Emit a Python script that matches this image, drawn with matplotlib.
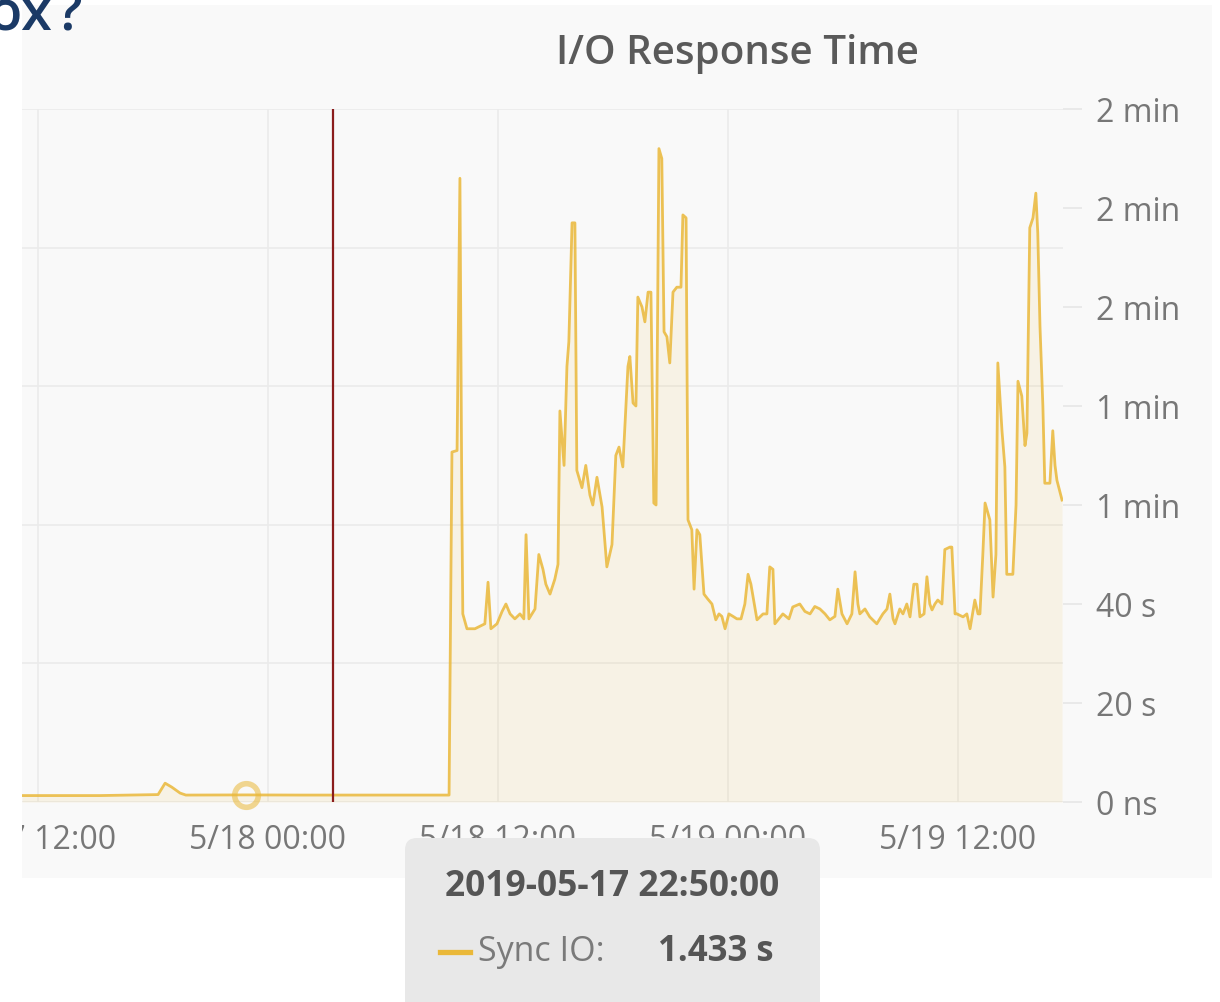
import datetime as dt
import matplotlib
matplotlib.use("Agg")
import matplotlib.pyplot as plt
from matplotlib.patches import FancyBboxPatch, Rectangle
from matplotlib.lines import Line2D
from matplotlib.transforms import IdentityTransform
from matplotlib.ticker import FuncFormatter

plt.rcParams['font.family'] = ['Open Sans', 'DejaVu Sans']

# time axis: minutes after 2019-05-18 00:00, values: Sync IO in seconds
base = dt.datetime(2019, 5, 18)
minutes = [
    -770, -526, -344, -322, -301, -275, -257, -70, 100, 567,
    576, 592, 601, 607, 610, 623, 648, 679, 689, 698,
    717, 733, 745, 758, 773, 789, 801, 808, 817, 836,
    848, 861, 870, 883, 898, 908, 914, 927, 936, 942,
    952, 961, 967, 983, 995, 1008, 1017, 1030, 1046, 1061,
    1077, 1089, 1099, 1111, 1127, 1133, 1143, 1152, 1158, 1171,
    1180, 1190, 1199, 1208, 1215, 1224, 1233, 1240, 1249, 1258,
    1268, 1280, 1293, 1299, 1309, 1315, 1327, 1334, 1343, 1352,
    1365, 1377, 1390, 1402, 1412, 1421, 1431, 1443, 1456, 1468,
    1481, 1493, 1503, 1512, 1531, 1550, 1562, 1571, 1581, 1587,
    1612, 1631, 1643, 1665, 1681, 1697, 1712, 1728, 1744, 1759,
    1775, 1784, 1797, 1813, 1828, 1838, 1847, 1853, 1869, 1884,
    1906, 1925, 1938, 1947, 1957, 1963, 1978, 1988, 2000, 2010,
    2022, 2032, 2041, 2054, 2063, 2072, 2079, 2088, 2097, 2110,
    2119, 2135, 2141, 2151, 2157, 2176, 2188, 2198, 2213, 2223,
    2229, 2238, 2245, 2260, 2270, 2279, 2285, 2298, 2307, 2313,
    2332, 2342, 2348, 2360, 2370, 2376, 2385, 2395, 2404, 2410,
    2417, 2426, 2432, 2448, 2457, 2464, 2470, 2486,
]
sync_io = [
    1.3, 1.3, 1.5, 3.8, 3.0, 1.8, 1.4, 1.433, 1.4, 1.4,
    70.7, 71, 126, 60, 38, 35, 35, 36, 44.4, 35,
    36, 38.5, 40, 38, 37, 38, 37, 54, 37, 39,
    50, 47, 44, 42, 45, 48, 79, 68, 88, 93,
    117, 117, 67, 63.5, 68, 62, 60, 65.6, 59.6, 47.5,
    52, 70, 71.7, 67.7, 88, 90, 80.6, 80, 102, 100,
    97, 103, 103, 60.4, 60, 132, 130, 95, 94, 88.7,
    103, 104, 104, 118.6, 118, 57, 55, 43, 55, 54,
    42, 41, 40, 36.8, 38, 37.5, 35, 38, 37.5, 37,
    37, 40, 46, 44, 36.8, 38, 38, 47.5, 47, 36,
    38, 37, 39.4, 40, 38.5, 38, 39.5, 39, 38, 36.8,
    37.5, 43, 38, 36, 38, 46.5, 40, 38, 39, 37.4,
    36, 38, 39, 42, 37, 36, 39, 38, 40, 37.4,
    44, 44, 37.4, 38, 45.5, 40, 38.8, 40, 40.8, 40,
    51, 51.5, 51.5, 38, 38, 37.4, 38, 35, 40.8, 38,
    38, 50, 60.4, 57, 41.4, 50, 88.7, 75, 67.7, 46,
    46, 60, 85, 82, 72, 74.5, 116, 118, 123, 115,
    96, 80, 64.4, 64.4, 75, 68, 65, 61,
]
x_ticks = [-720, 0, 720, 1440, 2160]
y_ticks = [0, 20, 40, 60, 80, 100, 120, 140]
hover_min, hover_val = -70, 1.433
annot_min = 203
series_name = 'Sync IO'

W, H = 1220, 1002
fig = plt.figure(figsize=(W / 100, H / 100), dpi=100, facecolor='white')
px = IdentityTransform()

# panel background
fig.patches.append(Rectangle((22, H - 878), 1190, 873, transform=px,
                             facecolor='#f9f9f9', edgecolor='none', zorder=-1))

ax = fig.add_axes([22 / W, 1 - 802 / H, (1063 - 22) / W, (802 - 109) / H])
ax.set_facecolor('none')
ax.set_xlim(-770, 2489)
ax.set_ylim(0, 5)
ax.set_yticks(range(6))
ax.set_xticks(x_ticks)


def fmt_time(m, p):
    t = base + dt.timedelta(minutes=float(m))
    return '{}/{} {}'.format(t.month, t.day, t.strftime('%H:%M'))


ax.xaxis.set_major_formatter(FuncFormatter(fmt_time))
ax.grid(True, color='#ebebeb', lw=1.2)
ax.tick_params(axis='y', which='both', left=False, length=0, labelleft=False)
ax.tick_params(axis='x', length=0, pad=16, labelsize=23, labelcolor='#777777')
for s in ax.spines.values():
    s.set_visible(False)

ax2 = ax.twinx()
ax2.set_ylim(0, 140)
ax2.set_yticks(y_ticks)


def fmt_dur(v, p):
    if v == 0:
        return '0 ns'
    if v < 60:
        return '{:.0f} s'.format(v)
    return '{:.0f} min'.format(v / 60)


ax2.yaxis.set_major_formatter(FuncFormatter(fmt_dur))
ax2.tick_params(axis='y', length=14, width=1.2, color='#e6e6e6', pad=10,
                labelsize=23, labelcolor='#777777')
for s in ax2.spines.values():
    s.set_visible(False)

ax2.fill_between(minutes, sync_io, 0, color='#eab839', alpha=0.1, lw=0)
ax2.plot(minutes, sync_io, color='#eab839', lw=2.0, alpha=0.85)
ax2.axvline(annot_min, color='#8b1c1c', lw=1.6)
ax2.plot([hover_min], [hover_val], 'o', ms=17, mfc='none', mec='#eab839',
         mew=4, alpha=0.55, clip_on=False)

fig.text(738 / W, 1 - 64 / H, 'I/O Response Time', ha='center', va='baseline',
         fontsize=29, weight='semibold', color='#5a5a5a')

# crop edge on the left
fig.patches.append(Rectangle((0, 0), 22, H, transform=px, facecolor='white',
                             edgecolor='none', zorder=5))

# tooltip
fig.patches.append(FancyBboxPatch((405, -20), 415, H - 838 + 20,
                                  boxstyle='round,pad=0,rounding_size=12',
                                  transform=px, facecolor='#e8e8e8',
                                  edgecolor='none', zorder=10))
stamp = (base + dt.timedelta(minutes=hover_min)).strftime('%Y-%m-%d %H:%M:%S')
fig.text(612 / W, 1 - 887 / H, stamp, ha='center', va='center', fontsize=25.5,
         weight='bold', color='#555555', zorder=11)
fig.lines.append(Line2D([440, 470], [H - 952, H - 952], transform=px,
                        color='#eab839', lw=3.8, zorder=11))
fig.text(478 / W, 1 - 952 / H, series_name + ':', ha='left', va='center',
         fontsize=24.5, color='#7a7a7a', zorder=11)
fig.text(658 / W, 1 - 952 / H, '{:.3f} s'.format(hover_val), ha='left',
         va='center', fontsize=25, weight='bold', color='#555555', zorder=11)

# slide heading peeking in at the top left
fig.text(83 / W, 1 - 29 / H, 'box\u200a?', ha='right', va='baseline', fontsize=40,
         weight='semibold', color='#1b3a66', zorder=12)

fig.savefig('out.png')
